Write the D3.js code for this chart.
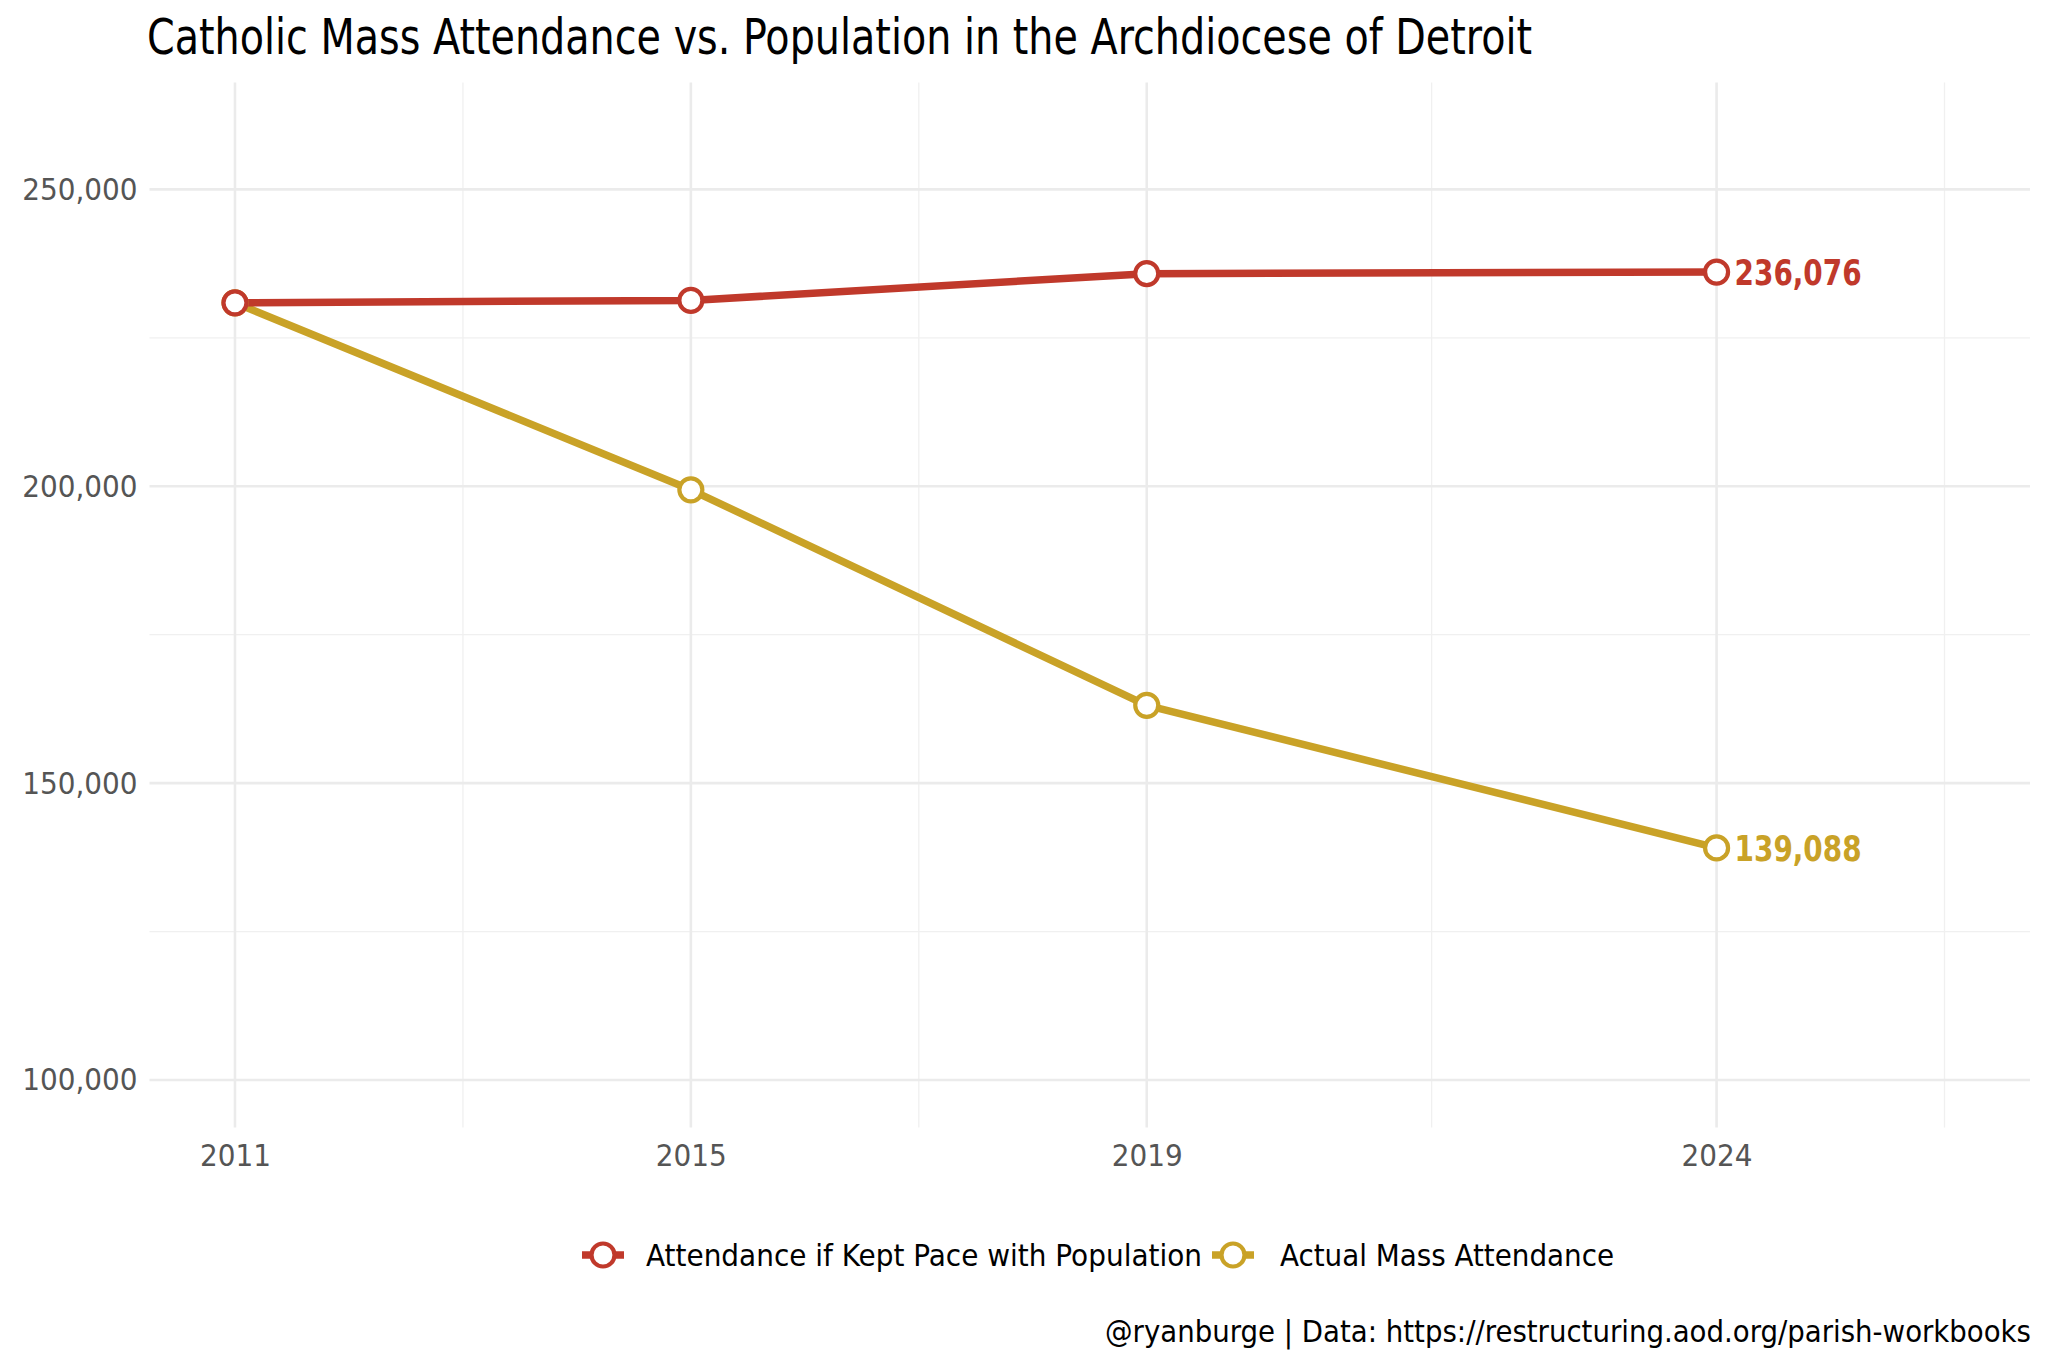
<!DOCTYPE html>
<html>
<head>
<meta charset="utf-8">
<script src="https://cdn.jsdelivr.net/npm/d3@7"></script>
<style>
  body { margin: 0; background: #fff; }
  text { font-family: "Liberation Sans Narrow", "DejaVu Sans Condensed", "Roboto", sans-serif; }
</style>
</head>
<body>
<div id="chart"></div>
<script>
// data
var years = [2011, 2015, 2019, 2024];
var keptPace = [230900, 231300, 235800, 236076];
var actual = [230900, 199400, 163100, 139088];
var seriesNames = ["Attendance if Kept Pace with Population", "Actual Mass Attendance"];
var seriesColors = ["#c0392b", "#c9a227"];
var yTicks = [100000, 150000, 200000, 250000];
var yMinor = [125000, 175000, 225000];
var xMinor = [2013, 2017, 2021.5, 2026];

var W = 2048, H = 1365;

var svg = d3.select("#chart")
  .append("svg")
  .attr("width", W)
  .attr("height", H);

// schalen
var x = d3.scaleLinear().domain([2010.25, 2026.75]).range([149.5, 2030]);
var y = d3.scaleLinear().domain([92000, 268000]).range([1127.5, 82.5]);

var grid = svg.append("g");

// minor grid
grid.selectAll(".ymin").data(yMinor).enter().append("line")
  .attr("x1", x.range()[0]).attr("x2", x.range()[1])
  .attr("y1", function (d) { return y(d); }).attr("y2", function (d) { return y(d); })
  .attr("stroke", "#f0f0f0").attr("stroke-width", 1.3);
grid.selectAll(".xmin").data(xMinor).enter().append("line")
  .attr("y1", y.range()[0]).attr("y2", y.range()[1])
  .attr("x1", function (d) { return x(d); }).attr("x2", function (d) { return x(d); })
  .attr("stroke", "#f0f0f0").attr("stroke-width", 1.3);

// major grid
grid.selectAll(".ymaj").data(yTicks).enter().append("line")
  .attr("x1", x.range()[0]).attr("x2", x.range()[1])
  .attr("y1", function (d) { return y(d); }).attr("y2", function (d) { return y(d); })
  .attr("stroke", "#ebebeb").attr("stroke-width", 2.6);
grid.selectAll(".xmaj").data(years).enter().append("line")
  .attr("y1", y.range()[0]).attr("y2", y.range()[1])
  .attr("x1", function (d) { return x(d); }).attr("x2", function (d) { return x(d); })
  .attr("stroke", "#ebebeb").attr("stroke-width", 2.6);

// akser (kun tekst)
var yAxis = svg.append("g")
  .attr("transform", "translate(" + (x.range()[0] - 4) + ",0)")
  .call(d3.axisLeft(y).tickValues(yTicks).tickSize(0).tickPadding(8).tickFormat(d3.format(",")));
yAxis.select(".domain").remove();
yAxis.selectAll("text").style("font-size", "31px").attr("fill", "#555");

var xAxis = svg.append("g")
  .attr("transform", "translate(0," + (y.range()[0] + 6) + ")")
  .call(d3.axisBottom(x).tickValues(years).tickSize(0).tickPadding(10).tickFormat(d3.format("d")));
xAxis.select(".domain").remove();
xAxis.selectAll("text").style("font-size", "31px").attr("fill", "#555");

// linjer og punkter
var series = [keptPace, actual];
var line = d3.line()
  .x(function (d, i) { return x(years[i]); })
  .y(function (d) { return y(d); });

// actual first so the red line sits on top
[1, 0].forEach(function (s) {
  svg.append("path")
    .datum(series[s])
    .attr("fill", "none")
    .attr("stroke", seriesColors[s])
    .attr("stroke-width", 7.5)
    .attr("stroke-linejoin", "round")
    .attr("d", line);
});
[1, 0].forEach(function (s) {
  svg.append("g").selectAll("circle").data(series[s]).enter().append("circle")
    .attr("cx", function (d, i) { return x(years[i]); })
    .attr("cy", function (d) { return y(d); })
    .attr("r", 11.5)
    .attr("fill", "#fff")
    .attr("stroke", seriesColors[s])
    .attr("stroke-width", 4.2);

  // slutlabel
  var last = series[s][series[s].length - 1];
  svg.append("text")
    .attr("x", x(years[years.length - 1]) + 18)
    .attr("y", y(last))
    .attr("dy", "0.36em")
    .attr("fill", seriesColors[s])
    .style("font-size", "35px")
    .style("font-weight", "bold")
    .attr("textLength", 127)
    .attr("lengthAdjust", "spacingAndGlyphs")
    .text(d3.format(",")(last));
});

// titel
svg.append("text")
  .attr("x", 147)
  .attr("y", 54)
  .style("font-size", "50px")
  .attr("fill", "#000")
  .attr("textLength", 1385)
  .attr("lengthAdjust", "spacingAndGlyphs")
  .text("Catholic Mass Attendance vs. Population in the Archdiocese of Detroit");

// legend
var legendY = 1255;
var legendItems = [
  { key: 582, text: 646, len: 556, idx: 0 },
  { key: 1212, text: 1280, len: 334, idx: 1 }
];
legendItems.forEach(function (it) {
  var g = svg.append("g");
  g.append("line")
    .attr("x1", it.key).attr("x2", it.key + 42)
    .attr("y1", legendY).attr("y2", legendY)
    .attr("stroke", seriesColors[it.idx]).attr("stroke-width", 7.5);
  g.append("circle")
    .attr("cx", it.key + 21).attr("cy", legendY).attr("r", 11.5)
    .attr("fill", "#fff").attr("stroke", seriesColors[it.idx]).attr("stroke-width", 4.2);
  g.append("text")
    .attr("x", it.text).attr("y", legendY).attr("dy", "0.36em")
    .style("font-size", "31px").attr("fill", "#000")
    .attr("textLength", it.len)
    .attr("lengthAdjust", "spacingAndGlyphs")
    .text(seriesNames[it.idx]);
});

// caption
svg.append("text")
  .attr("x", 2031)
  .attr("y", 1342)
  .attr("text-anchor", "end")
  .style("font-size", "31px")
  .attr("fill", "#000")
  .attr("textLength", 926)
  .attr("lengthAdjust", "spacingAndGlyphs")
  .text("@ryanburge | Data: https://restructuring.aod.org/parish-workbooks");
</script>
</body>
</html>
